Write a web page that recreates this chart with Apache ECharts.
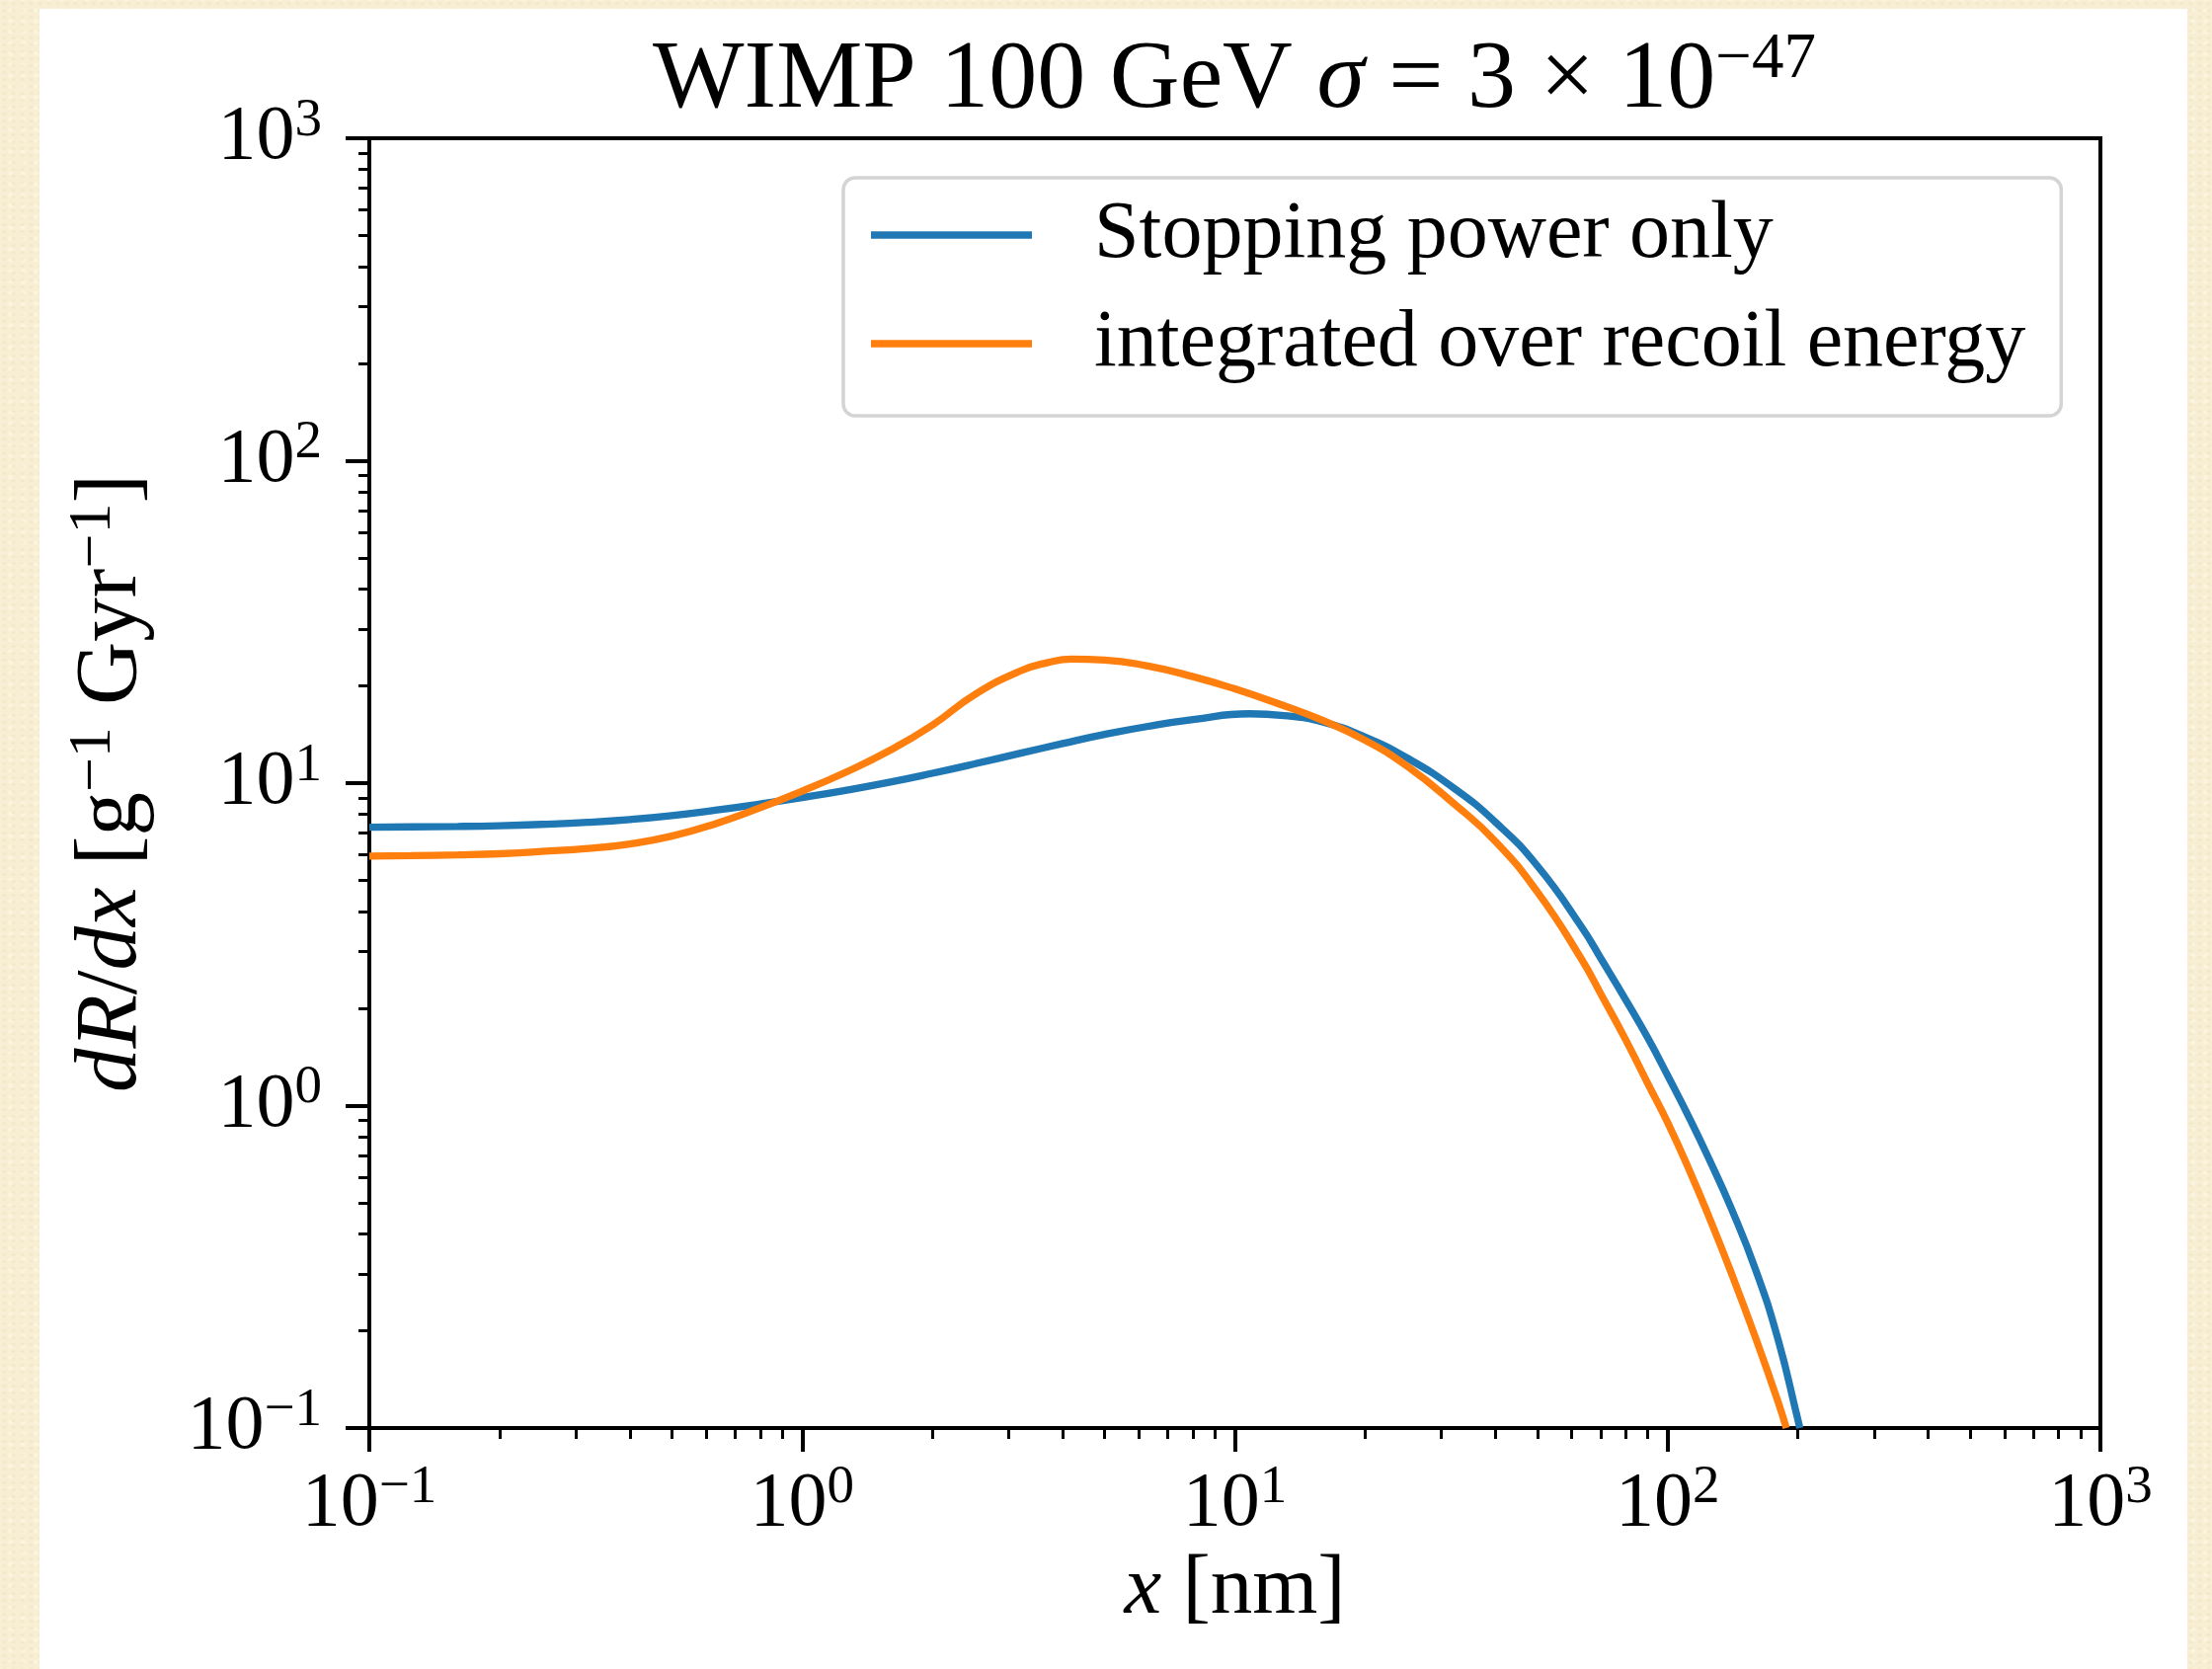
<!DOCTYPE html>
<html>
<head>
<meta charset="utf-8">
<script src="https://cdn.jsdelivr.net/npm/echarts@6/dist/echarts.min.js"></script>
<style>
html,body{margin:0;padding:0;width:2240px;height:1690px;overflow:hidden;}
#paper{position:absolute;left:0;top:0;width:2240px;height:1690px;background-color:#f7eed3;
  background-image:radial-gradient(rgba(225,205,150,0.22) 1px, transparent 2.5px),
                   radial-gradient(rgba(255,252,238,0.45) 1.5px, transparent 3.5px);
  background-size:9px 7px, 13px 11px;background-position:0 0, 4px 5px;}
#panel{position:absolute;left:40px;top:9px;width:2175px;height:1681px;background:#ffffff;}
#chart{position:absolute;left:0;top:0;width:2240px;height:1690px;}
</style>
</head>
<body>
<div id="paper"></div>
<div id="panel"></div>
<div id="chart"></div>
<script>
// ---------- data ----------
const seriesNames = ['Stopping power only', 'integrated over recoil energy'];

const stoppingX = [0.1, 0.125, 0.16, 0.2, 0.25, 0.32, 0.4, 0.5, 0.63, 0.8, 1, 1.25, 1.6, 2, 2.5, 3.2, 4, 5, 6.3, 8, 10.8, 13, 16, 20, 25, 32, 40, 50, 63, 71, 80, 90, 100, 113, 125, 140, 160, 180, 200, 202];
const stoppingY = [7.30, 7.32, 7.34, 7.38, 7.45, 7.56, 7.71, 7.93, 8.24, 8.62, 9.02, 9.48, 10.08, 10.73, 11.47, 12.39, 13.27, 14.16, 15.0, 15.74, 16.41, 16.2, 15.46, 13.9, 11.97, 9.67, 7.57, 5.54, 3.61, 2.78, 2.13, 1.62, 1.24, 0.899, 0.677, 0.483, 0.3075, 0.188, 0.106, 0.1];

const integratedX = [0.1, 0.125, 0.16, 0.2, 0.25, 0.32, 0.4, 0.5, 0.63, 0.8, 1, 1.25, 1.6, 2, 2.5, 3.2, 3.7, 4.2, 5, 6.3, 8, 10, 12.5, 16, 20, 25, 32, 40, 50, 63, 71, 80, 90, 100, 113, 125, 140, 160, 180, 188];
const integratedY = [5.94, 5.96, 5.99, 6.04, 6.14, 6.27, 6.48, 6.85, 7.48, 8.39, 9.45, 10.75, 12.66, 15.13, 18.79, 22.3, 23.66, 24.25, 24.1, 23.08, 21.4, 19.6, 17.7, 15.63, 13.58, 11.29, 8.66, 6.6, 4.6, 2.87, 2.15, 1.60, 1.17, 0.886, 0.617, 0.447, 0.305, 0.189, 0.1205, 0.1];

const xTickValues = [0.1, 1, 10, 100, 1000];
const xTickExponents = ['\u22121', '0', '1', '2', '3'];
const yTickValues = [0.1, 1, 10, 100, 1000];
const yTickExponents = ['\u22121', '0', '1', '2', '3'];

const titleText = '{n|WIMP 100 GeV }{i|\u03C3}{n| = 3 \u00D7 10}{s|\u221247}';
const xNameText = '{i|x}{n| [nm]}';
const yNameText = '{i|dR}{n|/}{i|dx}{n| [g}{s|\u22121}{n| Gyr}{s|\u22121}{n|]}';

// ---------- chart ----------
const FONT = "'Liberation Serif', 'DejaVu Serif', serif";
const pair = (xs, ys) => xs.map((x, i) => [x, ys[i]]);

function tickFormatter(values, exps) {
  return function (v) {
    const i = values.findIndex(t => Math.abs(Math.log10(t) - Math.log10(v)) < 1e-6);
    return i < 0 ? '' : '{b|10}{s|' + exps[i] + '}';
  };
}
const tickRich = {
  b: { fontFamily: FONT, fontSize: 78, lineHeight: 90, fontWeight: 'normal', color: '#000' },
  s: { fontFamily: FONT, fontSize: 55, lineHeight: 46, verticalAlign: 'top', fontWeight: 'normal', color: '#000' }
};
function nameRich(size, supSize, lh, supLh) {
  return {
    n: { fontFamily: FONT, fontSize: size, lineHeight: lh, fontWeight: 'normal', color: '#000' },
    i: { fontFamily: FONT, fontSize: size, lineHeight: lh, fontStyle: 'italic', fontWeight: 'normal', color: '#000' },
    s: { fontFamily: FONT, fontSize: supSize, lineHeight: supLh, verticalAlign: 'top', fontWeight: 'normal', color: '#000' }
  };
}

const axisCommon = {
  type: 'log', logBase: 10, min: 0.1, max: 1000, splitNumber: 4,
  axisLine: { show: true, onZero: false, lineStyle: { color: '#000', width: 4 } },
  axisTick: { show: true, inside: false, length: 24, lineStyle: { color: '#000', width: 4 } },
  minorTick: { show: true, splitNumber: 9, length: 11, lineStyle: { color: '#000', width: 3 } },
  splitLine: { show: false },
  minorSplitLine: { show: false },
  nameLocation: 'middle'
};

const chart = echarts.init(document.getElementById('chart'), null, { renderer: 'canvas', width: 2240, height: 1690 });

chart.setOption({
  animation: false,
  backgroundColor: 'transparent',
  title: {
    text: titleText,
    left: 1250, top: 28, padding: 0, textAlign: 'center',
    textStyle: {
      fontWeight: 'normal', fontFamily: FONT, fontSize: 98, color: '#000',
      rich: nameRich(98, 65, 108, 64)
    }
  },
  grid: {
    left: 374, top: 140, width: 1753, height: 1306,
    show: true, borderColor: '#000', borderWidth: 4, backgroundColor: 'transparent',
    containLabel: false, outerBoundsMode: 'none'
  },
  legend: {
    data: seriesNames,
    orient: 'vertical', left: 854, top: 180,
    padding: [13, 36, 28, 28], itemGap: 20,
    itemWidth: 163, itemHeight: 7.3, icon: 'rect',
    itemStyle: { borderWidth: 0 },
    backgroundColor: '#ffffff', borderColor: '#d4d4d4', borderWidth: 3.5, borderRadius: 12,
    formatter: n => '{t|' + n + '}',
    textStyle: {
      color: '#000', fontFamily: FONT, fontSize: 82, lineHeight: 90,
      rich: { t: { fontFamily: FONT, fontSize: 82, lineHeight: 90, padding: [0, 0, 0, 58], color: '#000' } }
    }
  },
  xAxis: Object.assign({}, axisCommon, {
    position: 'bottom',
    name: xNameText, nameGap: 112,
    nameTextStyle: { fontWeight: 'normal', rich: nameRich(85, 60, 100, 54) },
    axisLabel: { margin: 33, formatter: tickFormatter(xTickValues, xTickExponents), rich: tickRich }
  }),
  yAxis: Object.assign({}, axisCommon, {
    position: 'left',
    name: yNameText, nameGap: 210, nameRotate: 90,
    nameTextStyle: { fontWeight: 'normal', rich: nameRich(89, 62, 100, 55) },
    axisLabel: { margin: 48, formatter: tickFormatter(yTickValues, yTickExponents), rich: tickRich }
  }),
  series: [
    {
      name: seriesNames[0], type: 'line', data: pair(stoppingX, stoppingY),
      showSymbol: false, symbol: 'none', smooth: 0.5, clip: true,
      lineStyle: { color: '#1f77b4', width: 7.3 }, itemStyle: { color: '#1f77b4' }, z: 3
    },
    {
      name: seriesNames[1], type: 'line', data: pair(integratedX, integratedY),
      showSymbol: false, symbol: 'none', smooth: 0.5, clip: true,
      lineStyle: { color: '#ff7f0e', width: 7.3 }, itemStyle: { color: '#ff7f0e' }, z: 4
    }
  ]
});
</script>
</body>
</html>
